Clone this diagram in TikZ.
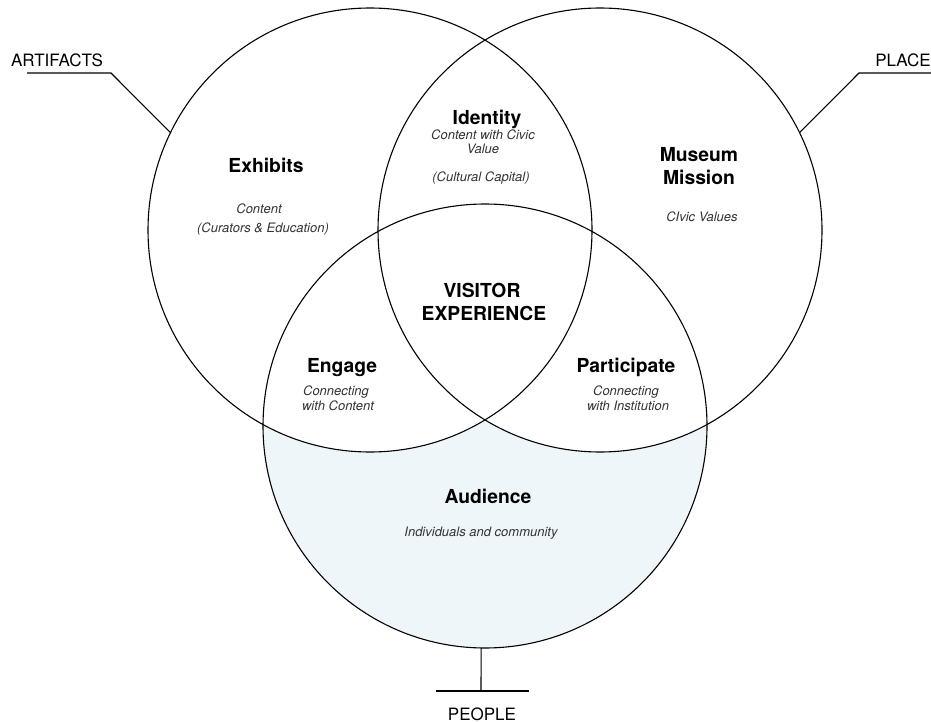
\documentclass[tikz,border=0pt]{standalone}
\usepackage{fontspec}
\setmainfont{TeX Gyre Heros}
\usepackage{xcolor}
\usepackage{tikz}

\definecolor{audfill}{HTML}{EEF6F9}
\definecolor{subgray}{HTML}{333333}

\tikzset{
  ring/.style={circle, draw, line width=1.1pt, minimum size=444pt, inner sep=0pt, outer sep=0pt},
  head/.style={font=\fontsize{19.3}{23}\selectfont\bfseries, anchor=base, inner sep=0pt},
  sub/.style={font=\fontsize{13}{15}\selectfont\itshape, text=subgray, anchor=base, inner sep=0pt},
  tag/.style={font=\fontsize{17}{19}\selectfont, anchor=base, inner sep=0pt},
  lead/.style={line width=1.1pt},
}

\begin{document}
\begin{tikzpicture}[x=1pt, y=-1pt]
\fill[white] (0,0) rectangle (931,722);
\useasboundingbox (0,0) rectangle (931,722);

% circle centres
\coordinate (artO) at (370,230);
\coordinate (plcO) at (600,230);
\coordinate (peoO) at (485,426);

% audience region
\fill[audfill] (peoO) circle (222pt);
\fill[white] (artO) circle (222pt);
\fill[white] (plcO) circle (222pt);

% the three circles
\node[ring] (artC) at (artO) {};
\node[ring] (plcC) at (plcO) {};
\node[ring] (peoC) at (peoO) {};

% Exhibits
\node[head] (exhT) at (266,173) {Exhibits};
\node[sub] (exhS1) at (259,213) {Content};
\node[sub] (exhS2) at (263,232) {(Curators \& Education)};

% Identity
\node[head] (idtT) at (487,125) {Identity};
\node[sub] (idtS1) at (483,140) {Content with Civic};
\node[sub] (idtS2) at (483,154) {Value};
\node[sub] (idtS3) at (481,182) {(Cultural Capital)};

% Museum Mission
\node[head] (musT1) at (699,162) {Museum};
\node[head] (musT2) at (699,185) {Mission};
\node[sub] (musS) at (702,222) {CIvic Values};

% Visitor experience
\node[head] (visT1) at (482,297) {VISITOR};
\node[head] (visT2) at (484,320) {EXPERIENCE};

% Engage
\node[head] (engT) at (342,372) {Engage};
\node[sub] (engS1) at (336,395) {Connecting};
\node[sub] (engS2) at (338,410) {with Content};

% Participate
\node[head] (parT) at (626,372) {Participate};
\node[sub] (parS1) at (626,395) {Connecting};
\node[sub] (parS2) at (628,410) {with Institution};

% Audience
\node[head] (audT) at (488,503) {Audience};
\node[sub] (audS) at (481,536) {Individuals and community};

% outside labels
\node[tag] (artT) at (57,67) {ARTIFACTS};
\node[tag] (plcT) at (903,67) {PLACE};
\node[tag] (peoT) at (482,720) {PEOPLE};

\coordinate (artL) at (27,73);
\coordinate (artK) at (111,73);
\coordinate (plcR) at (931,73);
\coordinate (plcK) at (859,73);
\coordinate (peoK) at (481,691);
\coordinate (peoL) at (436,691);
\coordinate (peoR) at (529,691);

\draw[lead] (artL) -- (artK) -- (artC.154);
\draw[lead] (plcR) -- (plcK) -- (plcC.26);
\draw[lead] (peoC.-91) -- (peoK);
\draw[lead] (peoL) -- (peoR);
\end{tikzpicture}
\end{document}
